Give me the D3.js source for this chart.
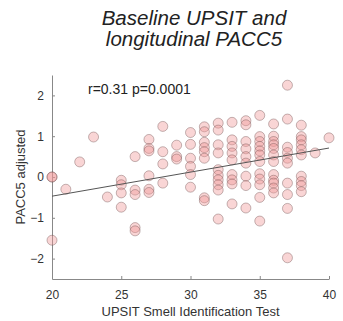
<!DOCTYPE html>
<html>
<head>
<meta charset="utf-8">
<script src="https://cdn.jsdelivr.net/npm/d3@7"></script>
<style>
  body { margin: 0; background: #fff; }
  text { font-family: "Liberation Sans", Arial, sans-serif; }
</style>
</head>
<body>
<div id="chart"></div>
<script>
// UPSIT score (x) and adjusted PACC5 slope (y)
const upsit = [
  20, 20, 20,
  21, 22, 23, 24,
  25, 25, 25, 25,
  26, 26, 26, 26, 26,
  27, 27, 27, 27, 27, 27,
  28, 28, 28, 28,
  29, 29, 29,
  30, 30, 30, 30, 30, 30,
  31, 31, 31, 31, 31, 31, 31, 31,
  32, 32, 32, 32, 32, 32, 32, 32, 32, 32,
  33, 33, 33, 33, 33, 33, 33, 33, 33,
  34, 34, 34, 34, 34, 34, 34, 34, 34,
  35, 35, 35, 35, 35, 35, 35, 35, 35, 35, 35, 35,
  36, 36, 36, 36, 36, 36, 36, 36, 36, 36, 36, 36,
  37, 37, 37, 37, 37, 37, 37, 37, 37, 37,
  38, 38, 38, 38, 38, 38, 38, 38, 38, 38,
  39, 40
];
const pacc5 = [
  0.0, 0.0, -1.55,
  -0.30, 0.37, 0.98, -0.49,
  -0.08, -0.19, -0.39, -0.74,
  0.50, -0.32, -0.43, -1.24, -1.32,
  0.92, 0.70, 0.64, 0.03, -0.30, -0.38,
  1.24, 0.62, 0.32, -0.15,
  0.78, 0.50, 0.44,
  1.09, 0.80, 0.46, 0.26, 0.06, -0.25,
  1.23, 1.11, 0.85, 0.72, 0.62, 0.46, -0.51, -0.58,
  1.32, 1.15, 0.79, 0.59, 0.18, 0.04, -0.07, -0.19, -0.32, -1.03,
  1.34, 0.91, 0.75, 0.59, 0.42, 0.06, -0.07, -0.17, -0.66,
  1.38, 1.28, 0.87, 0.69, 0.50, 0.34, 0.02, -0.21, -0.76,
  1.51, 0.99, 0.87, 0.75, 0.64, 0.54, 0.38, 0.08, -0.05, -0.19, -0.50, -1.08,
  1.30, 1.00, 0.87, 0.79, 0.70, 0.54, 0.38, 0.06, -0.08, -0.15, -0.27, -0.39,
  2.25, 1.42, 0.73, 0.60, 0.46, 0.34, -0.15, -0.43, -0.77, -1.98,
  1.27, 0.99, 0.91, 0.79, 0.67, 0.54, 0.02, -0.11, -0.21, -0.36,
  0.59, 0.96
];
// fitted line end points
const fitX = [20, 40];
const fitY = [-0.47, 0.71];
const xTicks = [20, 25, 30, 35, 40];
const yTicks = [-2, -1, 0, 1, 2];
const titleLines = ["Baseline UPSIT and", "longitudinal PACC5"];
const statsText = "r=0.31 p=0.0001";

let width = 343, height = 321;
let margin = {left: 52, right: 14, top: 75, bottom: 42};

const svg = d3.select("#chart")
    .append("svg")
    .attr("width", width)
    .attr("height", height);

const x = d3.scaleLinear().domain([20, 40]).range([margin.left, width - margin.right]);
const y = d3.scaleLinear().domain([-2.5, 2.5]).range([height - margin.bottom, margin.top]);

// axes (MATLAB style: ticks point inward, box off)
const xAxis = svg.append("g")
    .attr("transform", "translate(0," + y(-2.5) + ")")
    .call(d3.axisBottom(x).tickValues(xTicks).tickSize(-3).tickPadding(11).tickSizeOuter(0));
const yAxis = svg.append("g")
    .attr("transform", "translate(" + x(20) + ",0)")
    .call(d3.axisLeft(y).tickValues(yTicks).tickFormat(d3.format("d"))
        .tickSize(-3).tickPadding(8).tickSizeOuter(0));

[xAxis, yAxis].forEach(a => {
    a.select(".domain").attr("stroke", "#888");
    a.selectAll(".tick line").attr("stroke", "#888");
    a.selectAll(".tick text").attr("fill", "#333").attr("font-size", 12)
        .attr("font-family", "Liberation Sans, Arial, sans-serif");
});

// points
svg.append("g")
    .selectAll("circle")
    .data(upsit.map((u, i) => [u, pacc5[i]]))
    .enter()
    .append("circle")
    .attr("cx", d => x(d[0]))
    .attr("cy", d => y(d[1]))
    .attr("r", 5)
    .attr("fill", "rgb(240,150,150)")
    .attr("fill-opacity", 0.4)
    .attr("stroke", "rgb(110,80,80)")
    .attr("stroke-opacity", 0.4)
    .attr("stroke-width", 1);

// regression line
svg.append("line")
    .attr("x1", x(fitX[0])).attr("y1", y(fitY[0]))
    .attr("x2", x(fitX[1])).attr("y2", y(fitY[1]))
    .attr("stroke", "#555")
    .attr("stroke-width", 1);

svg.append("text")
    .attr("x", 88).attr("y", 94)
    .attr("font-family", "DejaVu Sans, sans-serif")
    .attr("font-size", 14)
    .attr("fill", "#222")
    .text(statsText);

// title
svg.append("g").selectAll("text")
    .data(titleLines)
    .enter()
    .append("text")
    .attr("x", 194)
    .attr("y", (d, i) => 25 + i * 21)
    .attr("text-anchor", "middle")
    .attr("font-family", "DejaVu Sans, sans-serif")
    .attr("font-style", "italic")
    .attr("font-size", 20.5)
    .attr("fill", "#222")
    .text(d => d);

// axis labels
svg.append("text")
    .attr("x", (x(20) + x(40)) / 2)
    .attr("y", 316)
    .attr("text-anchor", "middle")
    .attr("font-size", 13)
    .attr("fill", "#333")
    .text("UPSIT Smell Identification Test");

svg.append("text")
    .attr("transform", "translate(25," + y(0) + ") rotate(-90)")
    .attr("text-anchor", "middle")
    .attr("font-size", 13)
    .attr("fill", "#333")
    .text("PACC5 adjusted");
</script>
</body>
</html>
